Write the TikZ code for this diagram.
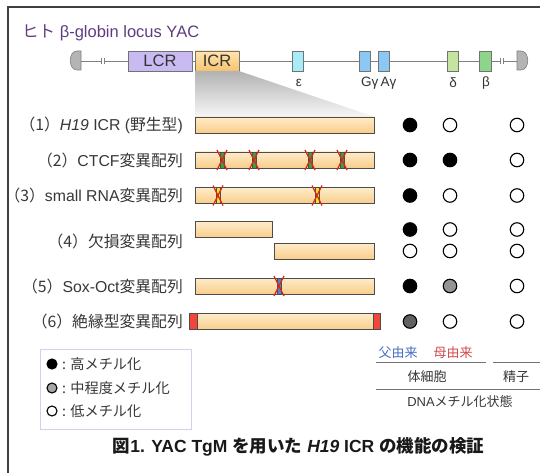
\documentclass[tikz,border=0pt]{standalone}
\usepackage{fontspec}
\setmainfont{Liberation Sans}
\newfontfamily\jp{Noto Sans CJK JP}
\definecolor{titlec}{RGB}{95,60,130}
\definecolor{txt}{RGB}{55,55,55}
\definecolor{lcrc}{RGB}{201,186,242}
\definecolor{icrT}{RGB}{255,228,175}
\definecolor{icrB}{RGB}{247,196,110}
\definecolor{barT}{RGB}{254,236,202}
\definecolor{barB}{RGB}{249,205,138}
\definecolor{epsc}{RGB}{168,236,248}
\definecolor{gamc}{RGB}{140,200,245}
\definecolor{delc}{RGB}{196,228,160}
\definecolor{betc}{RGB}{142,212,138}
\definecolor{capc}{RGB}{180,180,180}
\definecolor{xred}{RGB}{214,40,30}
\definecolor{ctcfc}{RGB}{60,160,60}
\definecolor{rnac}{RGB}{245,225,40}
\definecolor{soxc}{RGB}{80,130,210}
\definecolor{insc}{RGB}{240,70,60}
\definecolor{patc}{RGB}{70,110,195}
\definecolor{matc}{RGB}{210,75,75}
\definecolor{legc}{RGB}{214,206,242}
\newcommand\mutmark[3]{%
  \filldraw[fill=#3, draw=black!70, line width=0.5pt] ({#1-2},{#2-8}) rectangle ({#1+2},{#2+8});
  \draw[xred, line width=1.2pt] ({#1-5},{#2-10}) -- ({#1+5},{#2+10}) ({#1+5},{#2-10}) -- ({#1-5},{#2+10});}
\begin{document}
\begin{tikzpicture}[x=1pt,y=-1pt,
  lab/.style={anchor=east, inner sep=0, text=txt, font=\fontsize{15.8}{18}\selectfont},
  gene/.style={draw=black!55, line width=0.6pt, rectangle, minimum height=20, inner sep=0, text=black!80, font=\fontsize{16.5}{19}\selectfont},
  bar/.style={draw=black!70, line width=0.6pt, rectangle, top color=barT, bottom color=barB, minimum height=16, inner sep=0},
  dot/.style={circle, draw=black, line width=1.1pt, minimum size=13.5, inner sep=0},
  ldot/.style={circle, draw=black, line width=1.1pt, minimum size=10, inner sep=0},
  chrom/.style={draw=black!50, line width=0.8pt},
  ttxt/.style={inner sep=0, text=txt, font=\fontsize{13}{16}\selectfont\jp},
  ltxt/.style={anchor=west, inner sep=0, text=txt, font=\fontsize{14.2}{17}\selectfont\jp},
  gl/.style={inner sep=0, text=black!80, font=\fontsize{13.5}{16}\selectfont},
  tline/.style={draw=black!55, line width=1pt}]
\useasboundingbox (0,0) rectangle (540,473);
% frame
\draw[black!75, line width=2pt] (8,474) -- (8,7) -- (541,7);
% title
\node[anchor=west, inner sep=0, text=titlec, font=\fontsize{16.5}{19}\selectfont] (title) at (22,33) {{\jp ヒト} β-globin locus YAC};
% chromosome caps
\filldraw[fill=capc, draw=black!50, line width=0.6pt] (81,51) -- (77,51) .. controls (68,51) and (68,70) .. (77,70) -- (81,70) -- cycle;
\filldraw[fill=capc, draw=black!50, line width=0.6pt] (517,51) -- (521,51) .. controls (530,51) and (530,70) .. (521,70) -- (517,70) -- cycle;
\coordinate (capL) at (81,61);
\coordinate (capR) at (517,61);
% gene boxes
\node[gene, fill=lcrc, minimum width=64] (LCR) at (160,61) {LCR};
\node[gene, top color=icrT, bottom color=icrB, minimum width=44] (ICR) at (217,61) {ICR};
\node[gene, fill=epsc, minimum width=11] (eps) at (297.5,61) {};
\node[gene, fill=gamc, minimum width=11] (Gg) at (364.5,61) {};
\node[gene, fill=gamc, minimum width=11] (Ag) at (383.5,61) {};
\node[gene, fill=delc, minimum width=11] (del) at (452.5,61) {};
\node[gene, fill=betc, minimum width=12] (bet) at (485,61) {};
\draw[chrom] (capL) -- (LCR.west);
\draw[chrom] (LCR.east) -- (ICR.west);
\draw[chrom] (ICR.east) -- (eps.west);
\draw[chrom] (eps.east) -- (Gg.west);
\draw[chrom] (Gg.east) -- (Ag.west);
\draw[chrom] (Ag.east) -- (del.west);
\draw[chrom] (del.east) -- (bet.west);
\draw[chrom] (bet.east) -- (capR);
% break marks
\fill[white] (101,57) rectangle (104,65);
\draw[black!50, line width=0.6pt] (101,58) -- (101,64) (104,58) -- (104,64);
\fill[white] (500,57) rectangle (503,65);
\draw[black!50, line width=0.6pt] (500,58) -- (500,64) (503,58) -- (503,64);
% gene labels
\node[gl] (leps) at (299,83) {ε};
\node[gl, anchor=west] (lGA) at (361,83) {Gγ\,Aγ};
\node[gl] (ldel) at (453,83) {δ};
\node[gl] (lbet) at (486,83) {β};
% zoom shading
\shade[top color=black!30, bottom color=black!3] (195,71) -- (239,71) -- (375,117) -- (195,117) -- cycle;
% rows: labels
\node[lab] (l1) at (183,125) {{\jp （1）}\textit{H19} ICR ({\jp 野生型})};
\node[lab] (l2) at (183,160) {{\jp （2）}CTCF{\jp 変異配列}};
\node[lab] (l3) at (183,195.5) {{\jp （3）}small RNA{\jp 変異配列}};
\node[lab] (l4) at (183,241) {{\jp （4）欠損変異配列}};
\node[lab] (l5) at (183,286) {{\jp （5）}Sox-Oct{\jp 変異配列}};
\node[lab] (l6) at (183,321.5) {{\jp （6）絶縁型変異配列}};
% bars
\node[bar, minimum width=179] (b1) at (284.5,125) {};
\node[bar, minimum width=179] (b2) at (284.5,160) {};
\node[bar, minimum width=179] (b3) at (284.5,195.5) {};
\node[bar, minimum width=77] (b4a) at (233.5,229.5) {};
\node[bar, minimum width=100] (b4b) at (324,251) {};
\node[bar, minimum width=179] (b5) at (284.5,286) {};
\node[bar, minimum width=176] (b6) at (285,321.5) {};
\node[draw=black!70, line width=0.6pt, fill=insc, minimum width=8, minimum height=16, inner sep=0] (ins1) at (193,321.5) {};
\node[draw=black!70, line width=0.6pt, fill=insc, minimum width=7, minimum height=16, inner sep=0] (ins2) at (376.5,321.5) {};
% mutation marks
\mutmark{222}{160}{ctcfc}
\mutmark{254}{160}{ctcfc}
\mutmark{310}{160}{ctcfc}
\mutmark{342}{160}{ctcfc}
\mutmark{218}{195.5}{rnac}
\mutmark{317}{195.5}{rnac}
\mutmark{279}{286}{soxc}
% methylation circles
\node[dot, fill=black] (c1a) at (410,125) {};
\node[dot, fill=white] (c1b) at (450,125) {};
\node[dot, fill=white] (c1c) at (517,125) {};
\node[dot, fill=black] (c2a) at (410,160) {};
\node[dot, fill=black] (c2b) at (450,160) {};
\node[dot, fill=white] (c2c) at (517,160) {};
\node[dot, fill=black] (c3a) at (410,195.5) {};
\node[dot, fill=white] (c3b) at (450,195.5) {};
\node[dot, fill=white] (c3c) at (517,195.5) {};
\node[dot, fill=black] (c4a) at (410,229.5) {};
\node[dot, fill=white] (c4b) at (450,229.5) {};
\node[dot, fill=white] (c4c) at (517,229.5) {};
\node[dot, fill=white] (c5a) at (410,251) {};
\node[dot, fill=white] (c5b) at (450,251) {};
\node[dot, fill=white] (c5c) at (517,251) {};
\node[dot, fill=black] (c6a) at (410,286) {};
\node[dot, fill=black!42] (c6b) at (450,286) {};
\node[dot, fill=white] (c6c) at (517,286) {};
\node[dot, fill=black!62] (c7a) at (410,321.5) {};
\node[dot, fill=white] (c7b) at (450,321.5) {};
\node[dot, fill=white] (c7c) at (517,321.5) {};
% legend
\node[draw=legc, line width=0.8pt, minimum width=151, minimum height=80, inner sep=0] (leg) at (115.5,389) {};
\node[ldot, fill=black] (ld1) at (52,364) {};
\node[ldot, fill=black!35] (ld2) at (52,388) {};
\node[ldot, fill=white] (ld3) at (52,411) {};
\node[ltxt] (lt1) at (62,364) {: 高メチル化};
\node[ltxt] (lt2) at (62,388) {: 中程度メチル化};
\node[ltxt] (lt3) at (62,411) {: 低メチル化};
% table
\node[ttxt, text=patc] (pat) at (398,353) {父由来};
\node[ttxt, text=matc] (mat) at (453,353) {母由来};
\coordinate (t1a) at (376,362); \coordinate (t1b) at (486,362);
\coordinate (t2a) at (493,362); \coordinate (t2b) at (541,362);
\draw[tline] (t1a) -- (t1b);
\draw[tline] (t2a) -- (t2b);
\node[ttxt] (soma) at (427,377) {体細胞};
\node[ttxt] (sperm) at (516,377) {精子};
\coordinate (t3a) at (376,389); \coordinate (t3b) at (541,389);
\draw[tline] (t3a) -- (t3b);
\node[ttxt] (dna) at (460,402) {{\rmfamily DNA}メチル化状態};
% caption
\node[inner sep=0, text=black!90, font=\fontsize{17.5}{20}\selectfont\bfseries] (cap) at (298.5,447) {{\jp 図}1. YAC TgM {\jp を用いた} \textit{H19} ICR {\jp の機能の検証}};
\end{tikzpicture}
\end{document}
